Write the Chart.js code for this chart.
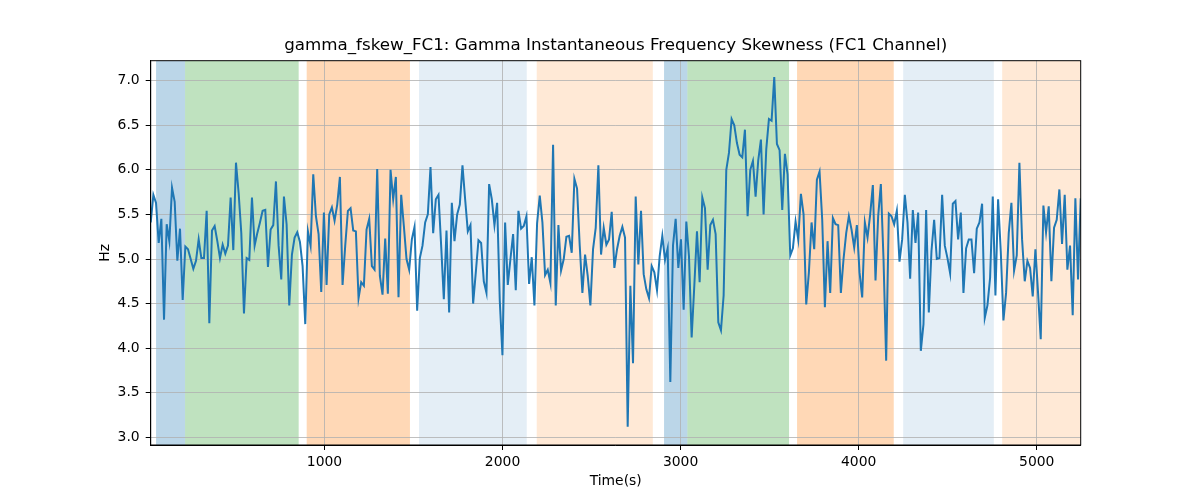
<!DOCTYPE html>
<html>
<head>
<meta charset="utf-8">
<script src="https://cdn.jsdelivr.net/npm/chart.js@4.4.0/dist/chart.umd.min.js"></script>
<style>
  html, body { margin: 0; padding: 0; background: #fff; }
</style>
</head>
<body>
<canvas id="chart" width="1200" height="500"></canvas>
<script>
// time span of the recording (s), samples are evenly spaced across it
const T_START = 24;
const T_END = 5247;

// gamma instantaneous frequency skewness
const skew = [
  5.41, 5.72, 5.63, 5.18, 5.45, 4.32, 5.39, 5.20, 5.80, 5.64,
  4.98, 5.34, 4.54, 5.14, 5.11, 5.00, 4.89, 4.98, 5.22, 5.01,
  5.01, 5.54, 4.28, 5.32, 5.37, 5.20, 5.01, 5.16, 5.06, 5.15,
  5.69, 5.10, 6.08, 5.74, 5.29, 4.39, 5.01, 4.99, 5.69, 5.15,
  5.29, 5.41, 5.54, 5.55, 4.91, 5.33, 5.38, 5.87, 5.15, 4.77,
  5.70, 5.39, 4.48, 5.05, 5.24, 5.30, 5.19, 4.92, 4.27, 5.31,
  5.15, 5.95, 5.48, 5.28, 4.63, 5.52, 4.71, 5.50, 5.58, 5.43,
  5.61, 5.92, 4.71, 5.15, 5.54, 5.57, 5.32, 5.31, 4.56, 4.74,
  4.70, 5.33, 5.45, 4.92, 4.88, 6.01, 4.81,
  4.60, 5.23, 4.61, 6.00, 5.67, 5.92, 4.57, 5.72, 5.37, 5.00,
  4.88, 5.22, 5.36, 4.42, 5.01, 5.15, 5.41, 5.50, 6.03, 5.29,
  5.67, 5.72, 5.15, 4.55, 5.32, 4.40, 5.63, 5.20, 5.50, 5.61,
  6.05, 5.67, 5.31, 5.38, 4.50, 4.85, 5.21, 5.18, 4.75, 4.62,
  5.84, 5.67, 5.38, 5.63, 4.53, 3.92, 5.41, 4.71, 5.00, 5.28,
  4.65, 5.54, 5.34, 5.37, 5.48, 4.72, 5.02, 4.48, 5.40, 5.71,
  5.41, 4.82, 4.88, 4.73, 6.28, 4.48, 5.38, 4.87, 5.00, 5.25,
  5.26, 5.07, 5.90, 5.79, 5.15, 4.62, 5.05, 4.81, 4.48, 5.11,
  5.35, 6.05, 5.05, 5.35, 5.16, 5.22,
  5.53, 4.90, 5.11, 5.26, 5.36, 5.24, 3.12, 4.70, 3.83, 5.70,
  4.94, 5.54, 4.83, 4.66, 4.56, 4.92, 4.85, 4.65, 5.03, 5.26,
  4.99, 5.12, 3.62, 5.15, 5.45, 4.90, 5.22, 4.43, 5.42, 5.03,
  4.12, 4.70, 5.31, 4.74, 5.69, 5.57, 4.88, 5.38, 5.44, 5.28,
  4.29, 4.20, 4.59, 6.00, 6.19, 6.57, 6.50, 6.30, 6.17, 6.14,
  6.45, 5.48, 6.00, 6.10, 5.70, 6.11, 6.34, 5.50, 6.23, 6.57,
  6.55, 7.04, 6.29, 6.22, 5.55, 6.18, 5.95, 5.04, 5.12, 5.42,
  5.22, 5.73, 5.50, 4.49, 4.85, 5.41, 5.11, 5.89, 5.98, 5.44,
  4.46, 5.20, 4.62, 5.46, 5.39, 5.38,
  4.62, 5.00, 5.29, 5.48, 5.33, 5.13, 5.38, 4.85, 4.57, 5.41,
  5.24, 5.50, 5.83, 4.76, 5.48, 5.84, 5.00, 3.86, 5.51, 5.48,
  5.39, 5.54, 4.97, 5.22, 5.72, 5.41, 4.78, 5.55, 5.18, 5.52,
  3.97, 4.27, 5.55, 4.40, 5.09, 5.44, 5.00, 5.01, 5.72, 5.15,
  5.01, 4.84, 5.62, 5.65, 5.22, 5.52, 4.62, 5.12, 5.22, 5.22,
  4.84, 5.34, 5.41, 5.62, 4.34, 4.48, 4.79, 5.70, 4.59, 5.67,
  5.09, 4.31, 4.62, 5.29, 5.63, 4.87, 5.04, 6.08, 5.22, 4.75,
  4.98, 4.90, 4.58, 5.11, 4.62, 4.10, 5.60, 5.30, 5.59, 4.75,
  5.35, 5.44, 5.78, 5.17, 5.72, 4.88, 5.15, 4.37, 5.68, 4.77,
  5.68
];

// shaded stage intervals (s)
const bandStart = [54, 217, 900, 1531, 2192, 2907, 3038, 3654, 4250, 4806];
const bandEnd   = [217, 855, 1480, 2136, 2844, 3038, 3609, 4197, 4759, 5247];
const bandKind  = ['a', 'b', 'c', 'd', 'e', 'a', 'b', 'c', 'd', 'e'];

const xTicks = [1000, 2000, 3000, 4000, 5000];
const yTicks = [3.0, 3.5, 4.0, 4.5, 5.0, 5.5, 6.0, 6.5, 7.0];

const TITLE = 'gamma_fskew_FC1: Gamma Instantaneous Frequency Skewness (FC1 Channel)';

const bandColors = {
  a: 'rgba(31, 119, 180, 0.3)',
  b: 'rgba(44, 160, 44, 0.3)',
  c: 'rgba(255, 127, 14, 0.3)',
  d: 'rgba(31, 119, 180, 0.12)',
  e: 'rgba(255, 127, 14, 0.17)'
};

const step = (T_END - T_START) / (skew.length - 1);
const points = skew.map((v, i) => ({ x: T_START + i * step, y: v }));

const FONT = 'DejaVu Sans';

const bands = {
  id: 'bands',
  beforeDraw(chart) {
    const { ctx, chartArea: a, scales: { x } } = chart;
    ctx.save();
    ctx.beginPath();
    ctx.rect(a.left, a.top, a.right - a.left, a.bottom - a.top);
    ctx.clip();
    bandStart.forEach((s, i) => {
      const x0 = x.getPixelForValue(s);
      const x1 = x.getPixelForValue(bandEnd[i]);
      ctx.fillStyle = bandColors[bandKind[i]];
      ctx.fillRect(x0, a.top, x1 - x0, a.bottom - a.top);
    });
    ctx.restore();
  },
  afterDraw(chart) {
    const { ctx, chartArea: a } = chart;
    ctx.save();
    ctx.strokeStyle = '#000';
    ctx.lineWidth = 1;
    ctx.strokeRect(a.left, a.top, a.right - a.left, a.bottom - a.top);
    // title centred over the plot area, like matplotlib
    ctx.fillStyle = '#000';
    ctx.font = '16.7px "' + FONT + '"';
    ctx.textAlign = 'center';
    ctx.textBaseline = 'middle';
    ctx.fillText(TITLE, (a.left + a.right) / 2, 46);
    ctx.restore();
  }
};

const grid = {
  color: '#b0b0b0',
  lineWidth: 0.8,
  tickLength: 5,
  tickColor: '#000',
  tickWidth: 1
};

new Chart(document.getElementById('chart').getContext('2d'), {
  type: 'line',
  data: {
    datasets: [{
      data: points,
      borderColor: '#1f77b4',
      borderWidth: 2,
      pointRadius: 0,
      tension: 0,
      fill: false
    }]
  },
  plugins: [bands],
  options: {
    responsive: false,
    animation: false,
    layout: { padding: { left: 92.7, right: 119.3, top: 60.7, bottom: 6.7 } },
    plugins: {
      legend: { display: false },
      tooltip: { enabled: false },
      title: { display: false }
    },
    scales: {
      x: {
        type: 'linear',
        min: T_START,
        max: T_END,
        afterBuildTicks: s => { s.ticks = xTicks.map(v => ({ value: v })); },
        afterFit: s => { s.height = 48.3; },
        ticks: {
          color: '#000',
          font: { family: FONT, size: 13.9 },
          padding: 4,
          maxRotation: 0,
          callback: v => String(v)
        },
        grid: grid,
        border: { display: true, color: '#000', width: 1 },
        title: {
          display: true,
          text: 'Time(s)',
          color: '#000',
          font: { family: FONT, size: 13.9 },
          padding: { top: 4, bottom: 4 }
        }
      },
      y: {
        type: 'linear',
        min: 2.914,
        max: 7.224,
        afterBuildTicks: s => { s.ticks = yTicks.map(v => ({ value: v })); },
        afterFit: s => { s.width = 58; },
        ticks: {
          color: '#000',
          font: { family: FONT, size: 13.9 },
          padding: 6,
          callback: v => v.toFixed(1)
        },
        grid: grid,
        border: { display: true, color: '#000', width: 1 },
        title: {
          display: true,
          text: 'Hz',
          color: '#000',
          font: { family: FONT, size: 13.9 },
          padding: { top: 4, bottom: 4 }
        }
      }
    }
  }
});
</script>
</body>
</html>
